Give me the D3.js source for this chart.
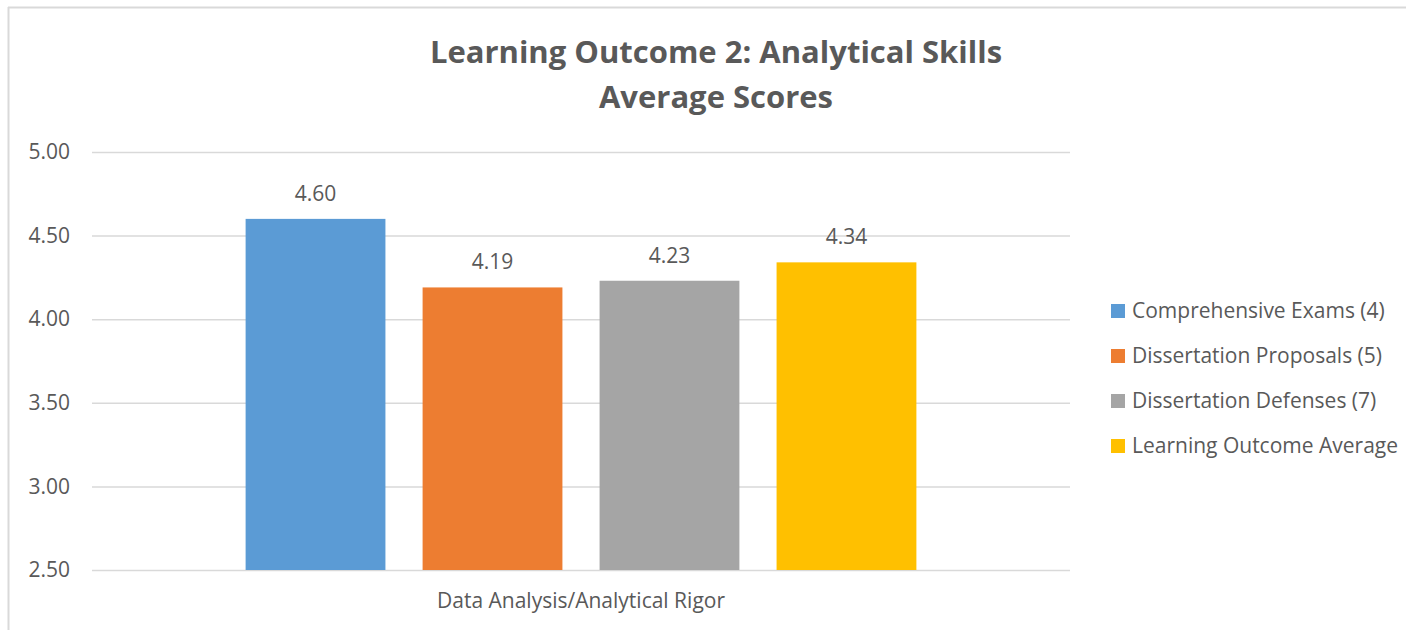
<!DOCTYPE html>
<html lang="en">
<head>
  <meta charset="UTF-8">
  <title>Learning Outcome 2: Analytical Skills Average Scores</title>
  <style>
    body { margin: 0; background: #fff; }
    svg text { font-family: "Open Sans", "Noto Sans", sans-serif; fill: #595959; }
    .title { font-weight: bold; font-size: 31px; }
    .axis text { font-size: 21px; }
    .label { font-size: 21px; }
    .legend text { font-size: 21px; }
  </style>
</head>
<body>
  <svg id="chart"></svg>

  <script src="https://d3js.org/d3.v7.min.js"></script>
  <script>
    // data
    const categories = ["Data Analysis/Analytical Rigor"];
    const seriesNames = ["Comprehensive Exams (4)", "Dissertation Proposals (5)", "Dissertation Defenses (7)", "Learning Outcome Average"];
    const seriesValues = [4.60, 4.19, 4.23, 4.34];
    const seriesColors = ["#5b9bd5", "#ed7d31", "#a5a5a5", "#ffc000"];
    const yTicks = [2.5, 3.0, 3.5, 4.0, 4.5, 5.0];
    const titleLines = ["Learning Outcome 2: Analytical Skills", "Average Scores"];

    const svgWidth = 1406;
    const svgHeight = 630;
    const plot = { left: 92, right: 1070, top: 152, bottom: 570 };

    const svg = d3.select("#chart")
      .attr("width", svgWidth)
      .attr("height", svgHeight);

    // chart frame (only top and left edges show in the original)
    svg.append("line")
      .attr("x1", 8).attr("x2", svgWidth).attr("y1", 7.5).attr("y2", 7.5)
      .attr("stroke", "#d9d9d9").attr("stroke-width", 2);
    svg.append("line")
      .attr("x1", 8.5).attr("x2", 8.5).attr("y1", 7).attr("y2", svgHeight)
      .attr("stroke", "#d9d9d9").attr("stroke-width", 2);

    // title
    svg.append("text")
      .attr("class", "title")
      .attr("text-anchor", "middle")
      .selectAll("tspan")
      .data(titleLines)
      .enter().append("tspan")
      .attr("x", 716)
      .attr("y", (d, i) => 63 + i * 45)
      .text(d => d);

    // scales
    const y = d3.scaleLinear()
      .domain([2.5, 5])
      .range([plot.bottom, plot.top]);

    const x0 = d3.scaleBand()
      .domain(categories)
      .range([plot.left, plot.right])
      .paddingInner(0)
      .paddingOuter(0.229);

    const x1 = d3.scaleBand()
      .domain(seriesNames)
      .range([0, x0.bandwidth()])
      .paddingInner(0.21)
      .paddingOuter(0);

    // gridlines + y labels
    const yAxis = d3.axisLeft(y)
      .tickValues(yTicks)
      .tickFormat(d3.format(".2f"))
      .tickSize(-(plot.right - plot.left))
      .tickPadding(22);

    const gy = svg.append("g")
      .attr("class", "axis")
      .attr("transform", `translate(${plot.left},0)`)
      .call(yAxis);
    gy.select(".domain").remove();
    gy.selectAll(".tick line").attr("stroke", "#d9d9d9").attr("stroke-width", 1.5);
    gy.selectAll(".tick text").attr("fill", "#595959");

    // x axis (category label only)
    const xAxis = d3.axisBottom(x0).tickSize(0).tickPadding(23);
    const gx = svg.append("g")
      .attr("class", "axis")
      .attr("transform", `translate(0,${plot.bottom})`)
      .call(xAxis);
    gx.select(".domain").remove();
    gx.selectAll(".tick text").attr("fill", "#595959");

    // bars
    const rows = seriesNames.map((name, i) => ({
      category: categories[0], name, value: seriesValues[i], color: seriesColors[i]
    }));

    const group = svg.append("g")
      .attr("transform", `translate(${x0(categories[0])},0)`);

    group.selectAll("rect")
      .data(rows)
      .enter().append("rect")
      .attr("x", d => x1(d.name))
      .attr("y", d => y(d.value))
      .attr("width", x1.bandwidth())
      .attr("height", d => y(2.5) - y(d.value))
      .attr("fill", d => d.color);

    group.selectAll(".label")
      .data(rows)
      .enter().append("text")
      .attr("class", "label")
      .attr("text-anchor", "middle")
      .attr("x", d => x1(d.name) + x1.bandwidth() / 2)
      .attr("y", d => y(d.value) - 18)
      .text(d => d3.format(".2f")(d.value));

    // legend
    const legend = svg.append("g")
      .attr("class", "legend")
      .attr("transform", "translate(1111,311)");

    const item = legend.selectAll("g")
      .data(rows)
      .enter().append("g")
      .attr("transform", (d, i) => `translate(0,${i * 45})`);

    item.append("rect")
      .attr("x", 0).attr("y", -7)
      .attr("width", 14).attr("height", 14)
      .attr("fill", d => d.color);

    item.append("text")
      .attr("x", 21)
      .attr("dy", "0.35em")
      .text(d => d.name);
  </script>
</body>
</html>
